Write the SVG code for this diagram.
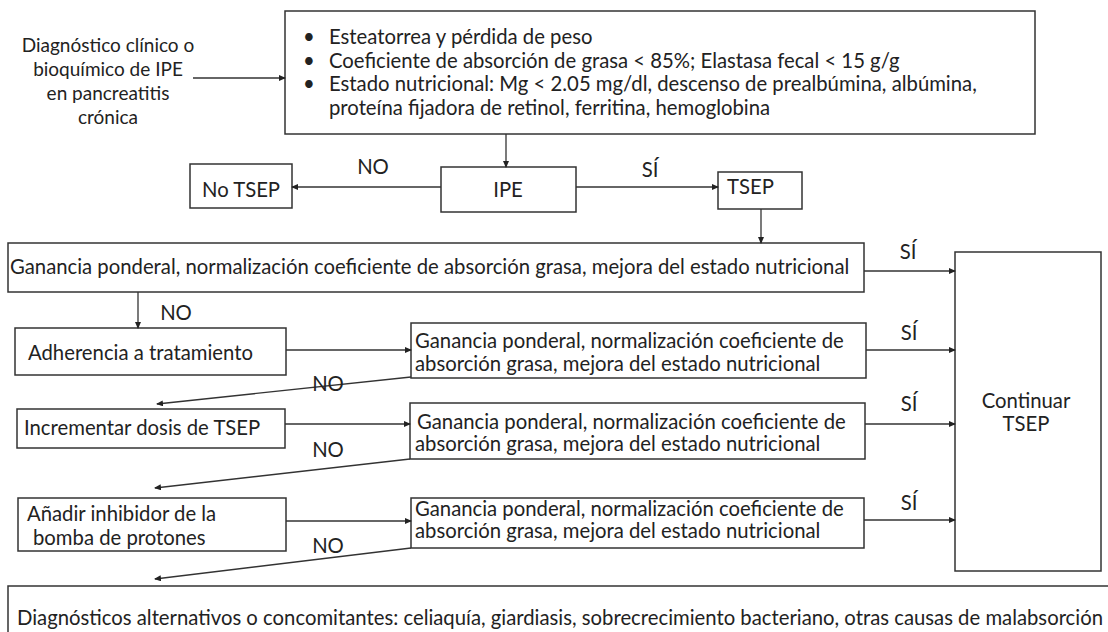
<svg xmlns="http://www.w3.org/2000/svg" width="1108" height="632" viewBox="0 0 1108 632">
<defs>
<marker id="ah" markerUnits="userSpaceOnUse" markerWidth="7" markerHeight="6" refX="6" refY="3" orient="auto">
<path d="M0,0 L7,3 L0,6 z" fill="#222"/>
</marker>
<style>
.box{fill:#fff;stroke:#333;stroke-width:1.5}
.t{font-family:Lato,"Open Sans",sans-serif;font-size:20.3px;fill:#222}
.s{font-size:19px}
.c{text-anchor:middle}
.edge{stroke:#333;stroke-width:1.3;fill:none;marker-end:url(#ah)}
</style>
</defs>
<rect width="1108" height="632" fill="#fff"/>
<g id="start">
<text class="t s c" x="108" y="52">Diagnóstico clínico o</text>
<text class="t s c" x="108" y="76">bioquímico de IPE</text>
<text class="t s c" x="108" y="100">en pancreatitis</text>
<text class="t s c" x="108" y="124">crónica</text>
</g>
<g id="criteria">
<rect class="box" x="285" y="11" width="750" height="123"/>
<text class="t" x="303" y="44">•</text>
<text class="t" x="303" y="68">•</text>
<text class="t" x="303" y="91">•</text>
<text class="t" x="329" y="44">Esteatorrea y pérdida de peso</text>
<text class="t" x="329" y="68">Coeficiente de absorción de grasa &lt; 85%; Elastasa fecal &lt; 15 g/g</text>
<text class="t" x="329" y="91">Estado nutricional: Mg &lt; 2.05 mg/dl, descenso de prealbúmina, albúmina,</text>
<text class="t" x="329" y="115">proteína fijadora de retinol, ferritina, hemoglobina</text>
</g>
<g id="ipe">
<rect class="box" x="441" y="167" width="135" height="45"/>
<text class="t c" x="508" y="197">IPE</text>
</g>
<g id="no-tsep">
<rect class="box" x="190" y="164" width="102" height="44"/>
<text class="t c" x="241" y="197">No TSEP</text>
</g>
<g id="tsep">
<rect class="box" x="718" y="172" width="84" height="37"/>
<text class="t" x="727" y="194">TSEP</text>
</g>
<g id="eval1">
<rect class="box" x="8" y="243" width="856" height="49"/>
<text class="t" x="10" y="274">Ganancia ponderal, normalización coeficiente de absorción grasa, mejora del estado nutricional</text>
</g>
<g id="continuar">
<rect class="box" x="955" y="252" width="146" height="319"/>
<text class="t c" x="1026" y="408">Continuar</text>
<text class="t c" x="1026" y="431">TSEP</text>
</g>
<g id="adherencia">
<rect class="box" x="15" y="328" width="271" height="47"/>
<text class="t" x="28" y="360">Adherencia a tratamiento</text>
</g>
<g id="eval2">
<rect class="box" x="411" y="323" width="455" height="55"/>
<text class="t" x="415" y="348">Ganancia ponderal, normalización coeficiente de</text>
<text class="t" x="415" y="371">absorción grasa, mejora del estado nutricional</text>
</g>
<g id="incrementar">
<rect class="box" x="17" y="409" width="268" height="39"/>
<text class="t" x="24" y="435">Incrementar dosis de TSEP</text>
</g>
<g id="eval3">
<rect class="box" x="410" y="403" width="455" height="56"/>
<text class="t" x="417" y="429">Ganancia ponderal, normalización coeficiente de</text>
<text class="t" x="415" y="451">absorción grasa, mejora del estado nutricional</text>
</g>
<g id="anadir">
<rect class="box" x="18" y="498" width="268" height="53"/>
<text class="t" x="27" y="521">Añadir inhibidor de la</text>
<text class="t" x="33" y="545">bomba de protones</text>
</g>
<g id="eval4">
<rect class="box" x="411" y="498" width="453" height="50"/>
<text class="t" x="415" y="516">Ganancia ponderal, normalización coeficiente de</text>
<text class="t" x="415" y="538">absorción grasa, mejora del estado nutricional</text>
</g>
<g id="alternativos">
<rect class="box" x="8" y="586" width="1110" height="60"/>
<text class="t" x="17" y="625">Diagnósticos alternativos o concomitantes: celiaquía, giardiasis, sobrecrecimiento bacteriano, otras causas de malabsorción</text>
</g>
<g id="connectors">
<line class="edge" x1="193" y1="78" x2="285" y2="78"/>
<line class="edge" x1="506" y1="134" x2="506" y2="167"/>
<line class="edge" x1="441" y1="187" x2="292" y2="187"/>
<line class="edge" x1="576" y1="187" x2="718" y2="187"/>
<line class="edge" x1="761" y1="209" x2="761" y2="243"/>
<line class="edge" x1="864" y1="271" x2="955" y2="271"/>
<line class="edge" x1="138" y1="292" x2="138" y2="328"/>
<line class="edge" x1="286" y1="350" x2="411" y2="350"/>
<line class="edge" x1="866" y1="350" x2="955" y2="350"/>
<line class="edge" x1="411" y1="377" x2="157" y2="404"/>
<line class="edge" x1="285" y1="424" x2="410" y2="424"/>
<line class="edge" x1="865" y1="424" x2="955" y2="424"/>
<line class="edge" x1="410" y1="459" x2="155" y2="488"/>
<line class="edge" x1="286" y1="521" x2="411" y2="521"/>
<line class="edge" x1="864" y1="520" x2="955" y2="520"/>
<line class="edge" x1="411" y1="548" x2="155" y2="579"/>
<text class="t c" x="373" y="174">NO</text>
<text class="t c" x="650" y="177">SÍ</text>
<text class="t c" x="908" y="259">SÍ</text>
<text class="t c" x="176" y="320">NO</text>
<text class="t c" x="909" y="340">SÍ</text>
<text class="t c" x="328" y="391">NO</text>
<text class="t c" x="909" y="411">SÍ</text>
<text class="t c" x="328" y="457">NO</text>
<text class="t c" x="909" y="510">SÍ</text>
<text class="t c" x="328" y="553">NO</text>
</g>
</svg>
